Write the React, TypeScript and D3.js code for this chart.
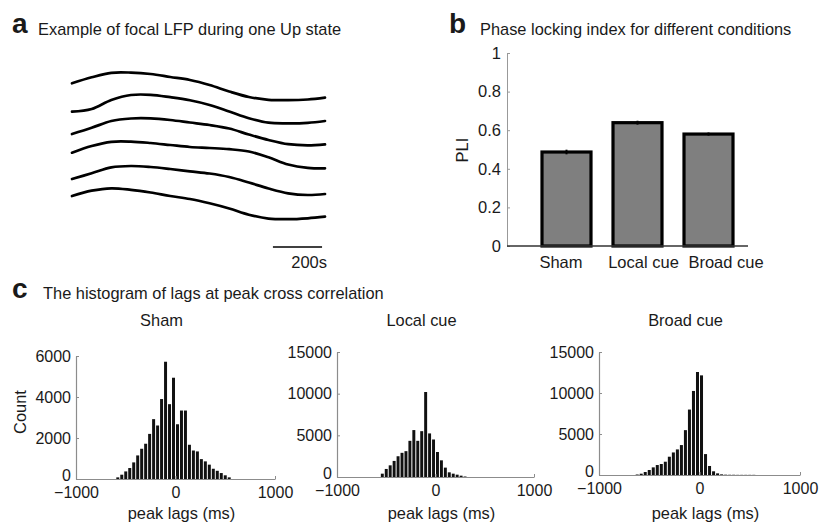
import React, { useRef, useEffect } from 'react';
import * as d3 from 'd3';

// panel a: focal LFP, six channels sampled at these times (arbitrary time units)
const lfpTimes = [0, 80, 160, 240, 320, 400, 480, 560, 640, 720, 800, 880, 960, 1030];
const lfpCh1 = [27, 87, 132, 134, 120, 90, 60, 10, -55, -110, -138, -142, -135, -117];
const lfpCh2 = [-23, 4, 94, 144, 146, 122, 91, 44, -21, -88, -133, -139, -134, -116];
const lfpCh3 = [-12, 50, 118, 143, 144, 128, 103, 78, 43, -17, -72, -114, -125, -115];
const lfpCh4 = [35, 102, 144, 146, 132, 112, 92, 82, 70, 47, -11, -83, -116, -121];
const lfpCh5 = [6, 63, 122, 136, 126, 106, 83, 61, 26, -29, -89, -137, -154, -144];
const lfpCh6 = [70, 123, 147, 132, 105, 70, 40, -3, -55, -117, -156, -162, -153, -137];
const lfpChannels = [lfpCh1, lfpCh2, lfpCh3, lfpCh4, lfpCh5, lfpCh6];
const CH_SPACING = 234;

// panel b: phase locking index
const conditions = ['Sham', 'Local cue', 'Broad cue'];
const pliMean = [0.487, 0.639, 0.58];
const pliErr = [0.012, 0.01, 0.008];
const pliTicks = [0, 0.2, 0.4, 0.6, 0.8, 1];

// panel c: lag histograms (bin centres in ms)
const lagBins = [-620, -580, -540, -500, -460, -420, -380, -340, -300, -260, -220, -180, -140, -100, -60,
  -20, 20, 60, 100, 140, 180, 220, 260, 300, 340, 380, 420, 460, 500, 540];
const shamCounts = [0, 80, 210, 370, 535, 810, 1150, 1475, 1720, 2200, 2920, 2610, 3900, 5720, 3650,
  4940, 2670, 3340, 3340, 1670, 1390, 1345, 970, 860, 700, 500, 400, 290, 180, 80];
const localCounts = [0, 0, 400, 965, 1400, 1930, 2490, 2900, 3100, 4340, 5630, 4340, 5500, 10200, 5230,
  4500, 3000, 2000, 1125, 560, 400, 280, 160, 60, 0, 0, 0, 0, 0, 0];
const broadCounts = [60, 160, 365, 610, 930, 1215, 1340, 1620, 2230, 2750, 3120, 3650, 5470, 7980, 10250,
  12560, 12150, 2550, 1100, 450, 200, 80, 40, 30, 30, 20, 20, 20, 20, 20];
const lagTicks = [-1000, 0, 1000];
const shamTicks = [0, 2000, 4000, 6000];
const cueTicks = [0, 5000, 10000, 15000];

const FONT = '"Liberation Sans", Arial, Helvetica, sans-serif';
const INK = '#1a1a1a';
const TITLE_SIZE = 16.4;

export default function App() {
  const svgRef = useRef(null);

  useEffect(() => {
    const svg = d3.select(svgRef.current);
    svg.selectAll('*').remove();
    svg.attr('font-family', FONT);

    const label = (x, y, txt, size, weight = 'normal', anchor = 'start') =>
      svg.append('text').attr('x', x).attr('y', y).text(txt)
        .attr('font-size', size).attr('font-weight', weight)
        .attr('text-anchor', anchor).attr('fill', INK);

    // ---------- a ----------
    label(12, 33, 'a', 28, 'bold');
    label(38, 35, 'Example of focal LFP during one Up state', TITLE_SIZE);

    const xLfp = d3.scaleLinear().domain([0, 1030]).range([72, 325]);
    const yLfp = d3.scaleLinear().domain([0, -CH_SPACING * 5]).range([86, 203]);

    lfpChannels.forEach((ch, i) => {
      const line = d3.line()
        .x((d, j) => xLfp(lfpTimes[j]))
        .y(d => yLfp(d - i * CH_SPACING))
        .curve(d3.curveCatmullRom.alpha(0.5));
      svg.append('path')
        .attr('d', line(ch))
        .attr('fill', 'none')
        .attr('stroke', '#000')
        .attr('stroke-width', 2.7)
        .attr('stroke-linecap', 'round');
    });

    // scale bar
    svg.append('line')
      .attr('x1', xLfp(818)).attr('x2', xLfp(1018))
      .attr('y1', 247).attr('y2', 247)
      .attr('stroke', '#000').attr('stroke-width', 1.6);
    label(xLfp(1018) + 5, 268, '200s', 16.5, 'normal', 'end');

    // ---------- b ----------
    label(449, 33, 'b', 28, 'bold');
    label(480, 35, 'Phase locking index for different conditions', TITLE_SIZE);

    const xB = d3.scaleBand().domain(conditions).range([542, 733]).paddingInner(0.31);
    const xLab = d3.scalePoint().domain(conditions).range([561, 726]);
    const yB = d3.scaleLinear().domain([0, 1]).range([246, 53]);

    const yAxB = svg.append('g')
      .attr('transform', 'translate(507,0)')
      .call(d3.axisLeft(yB).tickValues(pliTicks).tickFormat(d3.format('~g'))
        .tickSizeInner(-3).tickSizeOuter(0).tickPadding(6));
    yAxB.select('.domain').attr('stroke', '#999');
    yAxB.selectAll('.tick line').attr('stroke', '#999');
    yAxB.selectAll('text').attr('font-size', 16.5).attr('fill', INK).attr('font-family', FONT);

    svg.selectAll('rect.pli')
      .data(conditions)
      .enter()
      .append('rect')
      .attr('class', 'pli')
      .attr('x', d => xB(d))
      .attr('width', xB.bandwidth())
      .attr('y', (d, i) => yB(pliMean[i]))
      .attr('height', (d, i) => yB(0) - yB(pliMean[i]))
      .attr('fill', '#7f7f7f')
      .attr('stroke', '#000')
      .attr('stroke-width', 3.2);

    svg.selectAll('line.err')
      .data(conditions)
      .enter()
      .append('line')
      .attr('class', 'err')
      .attr('x1', d => xB(d) + xB.bandwidth() / 2)
      .attr('x2', d => xB(d) + xB.bandwidth() / 2)
      .attr('y1', (d, i) => yB(pliMean[i] - pliErr[i]))
      .attr('y2', (d, i) => yB(pliMean[i] + pliErr[i]))
      .attr('stroke', '#000')
      .attr('stroke-width', 2);

    svg.append('line')
      .attr('x1', 507).attr('x2', 748)
      .attr('y1', yB(0)).attr('y2', yB(0))
      .attr('stroke', '#333').attr('stroke-width', 1.6);

    conditions.forEach(c => label(xLab(c), 268, c, 16.5, 'normal', 'middle'));

    svg.append('text')
      .attr('transform', 'translate(468,150) rotate(-90)')
      .attr('text-anchor', 'middle')
      .attr('font-size', 16.5)
      .attr('fill', INK)
      .text('PLI');

    // ---------- c ----------
    label(12, 298, 'c', 28, 'bold');
    label(43, 299, 'The histogram of lags at peak cross correlation', TITLE_SIZE);

    const hists = [
      { title: 'Sham', counts: shamCounts, ticks: shamTicks, x0: 76, x1: 275, yb: 479, yt: 356, max: 6000 },
      { title: 'Local cue', counts: localCounts, ticks: cueTicks, x0: 337, x1: 534, yb: 477, yt: 352, max: 15000 },
      { title: 'Broad cue', counts: broadCounts, ticks: cueTicks, x0: 599, x1: 800, yb: 475, yt: 352, max: 15000 }
    ];

    hists.forEach((h, k) => {
      const x = d3.scaleLinear().domain([-1000, 1000]).range([h.x0, h.x1]);
      const y = d3.scaleLinear().domain([0, h.max]).range([h.yb, h.yt]);
      const g = svg.append('g');

      g.selectAll('rect')
        .data(h.counts)
        .enter()
        .append('rect')
        .attr('x', (d, i) => x(lagBins[i] - 15))
        .attr('width', (d, i) => x(lagBins[i] + 15) - x(lagBins[i] - 15))
        .attr('y', d => y(d))
        .attr('height', d => y(0) - y(d))
        .attr('fill', '#111');

      const ya = g.append('g')
        .attr('transform', `translate(${h.x0},0)`)
        .call(d3.axisLeft(y).tickValues(h.ticks).tickFormat(d3.format('d'))
          .tickSizeInner(-3).tickSizeOuter(0).tickPadding(5));
      // lift the zero label a little so it clears the x tick labels
      ya.selectAll('.tick text').attr('dy', d => (d === 0 ? '0.1em' : '0.32em'));

      const xa = g.append('g')
        .attr('transform', `translate(0,${h.yb})`)
        .call(d3.axisBottom(x).tickValues(lagTicks).tickFormat(d3.format('d'))
          .tickSizeInner(-3).tickSizeOuter(0).tickPadding(8));
      [ya, xa].forEach(a => {
        a.select('.domain').attr('stroke', '#8c8c8c').attr('stroke-width', 1.2);
        a.selectAll('.tick line').attr('stroke', '#8c8c8c');
        a.selectAll('text').attr('font-size', 16).attr('fill', INK).attr('font-family', FONT);
      });

      const cx = (h.x0 + h.x1) / 2;
      label(cx - 14, 326, h.title, TITLE_SIZE, 'normal', 'middle');
      label(cx + 6, 519, 'peak lags (ms)', TITLE_SIZE, 'normal', 'middle');

      if (k === 0) {
        svg.append('text')
          .attr('transform', 'translate(26,412) rotate(-90)')
          .attr('text-anchor', 'middle')
          .attr('font-size', TITLE_SIZE)
          .attr('fill', INK)
          .text('Count');
      }
    });
  }, []);

  return (
    <svg
      ref={svgRef}
      width={821}
      height={529}
      style={{ position: 'absolute', left: 0, top: 0, background: '#fff' }}
    />
  );
}
